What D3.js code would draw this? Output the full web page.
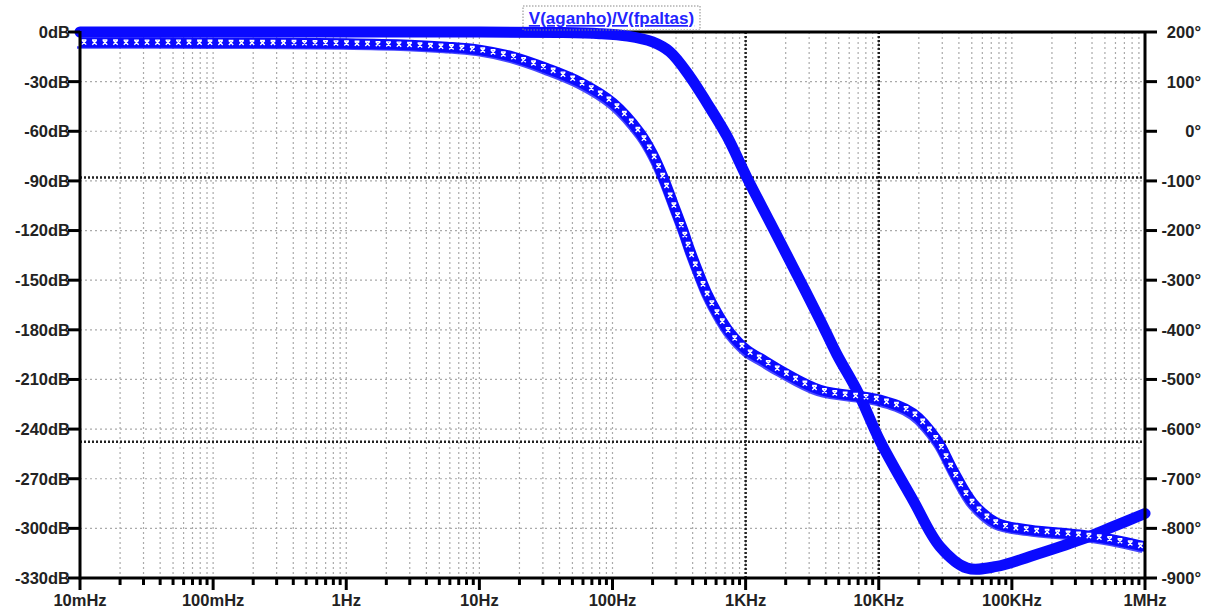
<!DOCTYPE html>
<html><head><meta charset="utf-8">
<script src="https://cdn.jsdelivr.net/npm/d3@7"></script>
<style>
html,body{margin:0;padding:0;background:#fff;}
svg{display:block;font-family:"Liberation Sans",Arial,sans-serif;}
</style></head>
<body><svg id="chart" width="1211" height="610"></svg>
<script>
// ---- data ----
const title = "V(aganho)/V(fpaltas)";
const freqTicks = [0.01, 0.1, 1, 10, 100, 1000, 10000, 100000, 1000000];
const freqTickLabels = ["10mHz","100mHz","1Hz","10Hz","100Hz","1KHz","10KHz","100KHz","1MHz"];
const dbTicks = [0,-30,-60,-90,-120,-150,-180,-210,-240,-270,-300,-330];
const dbTickLabels = dbTicks.map(d => d + "dB");
const degTicks = [200,100,0,-100,-200,-300,-400,-500,-600,-700,-800,-900];
const degTickLabels = degTicks.map(d => d + "°");

const magFreq = [0.01, 1, 10, 40, 80, 130, 200, 270, 382, 513, 724, 1023, 1524, 2270, 3622, 4856, 7000, 10200, 18100, 28800, 46000, 77000, 137000, 325000, 575000, 1000000];
const magDb   = [0, 0, 0, -0.3, -1, -2.5, -6, -12, -27, -43, -63, -88, -115, -142, -174, -195, -218, -247, -283, -311, -324, -323, -317, -307, -299, -291];

const phFreq = [0.01, 0.1, 1, 3, 5.7, 10, 17.9, 32, 57, 101, 161, 200, 240, 285, 340, 382, 450, 513, 600, 764, 1023, 1282, 1811, 3622, 10200, 18100, 27400, 36000, 51000, 77000, 137000, 325000, 575000, 1000000];
const phDeg  = [179, 178.5, 177, 174, 170, 164, 150, 127, 99, 57, -3, -45, -92, -145, -200, -240, -290, -327, -362, -406, -441, -457, -481, -521, -541, -568, -622, -682, -749, -789, -803, -813, -823, -837];

const cursorFreqs = [1000, 10000];
const cursorDb = [-88, -247.6];

// ---- layout ----
const L = 80, R = 1145, T = 32, B = 578;
const svg = d3.select("#chart");
const x = d3.scaleLog().domain([0.01, 1e6]).range([L, R]);
const yL = d3.scaleLinear().domain([0, -330]).range([T, B]);
const yR = d3.scaleLinear().domain([200, -900]).range([T, B]);
const blue = "#0a0aff";

// grid
const grid = svg.append("g");
const minor = [];
for (let e = -2; e < 6; e++) for (let m = 1; m < 10; m++) minor.push(m * Math.pow(10, e));
minor.push(1e6);
grid.selectAll("line.v").data(minor.filter(f => f > 0.01 && f < 1e6)).enter().append("line")
  .attr("x1", d => x(d)).attr("x2", d => x(d)).attr("y1", T).attr("y2", B)
  .attr("stroke", "#aaa").attr("stroke-width", 1.2).attr("stroke-dasharray", "2,3");
grid.selectAll("line.h").data(dbTicks.slice(1, -1)).enter().append("line")
  .attr("x1", L).attr("x2", R).attr("y1", d => yL(d)).attr("y2", d => yL(d))
  .attr("stroke", "#aaa").attr("stroke-width", 1.2).attr("stroke-dasharray", "2,3");

// cursors
const cur = svg.append("g");
cur.selectAll("line.cv").data(cursorFreqs).enter().append("line")
  .attr("x1", d => x(d)).attr("x2", d => x(d)).attr("y1", T).attr("y2", B)
  .attr("stroke", "#222").attr("stroke-width", 2.5).attr("stroke-dasharray", "2,2");
cur.selectAll("line.ch").data(cursorDb).enter().append("line")
  .attr("x1", L).attr("x2", R).attr("y1", d => yL(d)).attr("y2", d => yL(d))
  .attr("stroke", "#222").attr("stroke-width", 2.5).attr("stroke-dasharray", "2,2");

// top frame line
svg.append("line").attr("x1", L).attr("x2", R).attr("y1", T).attr("y2", T).attr("stroke", "#000").attr("stroke-width", 3);

// curves
const magData = magFreq.map((f, i) => [x(f), yL(magDb[i])]);
const phData = phFreq.map((f, i) => [x(f), yR(phDeg[i])]);
const line = d3.line().curve(d3.curveCatmullRom.alpha(0.5));

// phase (dashed-style trace with markers)
svg.append("path").attr("d", line(phData)).attr("fill", "none")
  .attr("stroke", blue).attr("stroke-width", 2.5).attr("opacity", 0.75)
  .attr("transform", "translate(-3,5)");
const phPath = svg.append("path").attr("d", line(phData)).attr("fill", "none")
  .attr("stroke", blue).attr("stroke-width", 10.5).attr("stroke-linejoin", "round");
// magnitude
svg.append("path").attr("d", line(magData)).attr("fill", "none")
  .attr("stroke", blue).attr("stroke-width", 11).attr("stroke-linejoin", "round").attr("stroke-linecap", "round");

// phase markers
const node = phPath.node();
const total = node.getTotalLength();
const marks = [];
for (let s = 4; s < total; s += 10.5) marks.push(node.getPointAtLength(s));
svg.append("g").selectAll("path").data(marks).enter().append("path")
  .attr("d", d => `M${d.x-2.2},${d.y-2.2}L${d.x+2.2},${d.y+2.2}M${d.x+2.2},${d.y-2.2}L${d.x-2.2},${d.y+2.2}M${d.x-2.4},${d.y-2.4}L${d.x+2.4},${d.y-2.4}`)
  .attr("stroke", "#fff").attr("stroke-width", 1.4).attr("fill", "none");

// axes
const ax = svg.append("g");
ax.append("line").attr("x1", L).attr("x2", L).attr("y1", T - 1).attr("y2", B + 1.5).attr("stroke", "#000").attr("stroke-width", 3);
ax.append("line").attr("x1", R).attr("x2", R).attr("y1", T - 1).attr("y2", B + 1.5).attr("stroke", "#000").attr("stroke-width", 3);
ax.append("line").attr("x1", L).attr("x2", R).attr("y1", B).attr("y2", B).attr("stroke", "#000").attr("stroke-width", 3);

// left ticks + labels
ax.selectAll("line.lt").data(dbTicks).enter().append("line")
  .attr("x1", L - 12).attr("x2", L).attr("y1", d => yL(d)).attr("y2", d => yL(d))
  .attr("stroke", "#000").attr("stroke-width", 3);
ax.selectAll("text.lt").data(dbTicks).enter().append("text")
  .attr("x", L - 10).attr("y", d => yL(d)).attr("dy", "0.36em").attr("text-anchor", "end")
  .attr("font-size", 16.5).attr("font-weight", "bold").attr("fill", "#222")
  .text((d, i) => dbTickLabels[i]);

// right ticks + labels
ax.selectAll("line.rt").data(degTicks).enter().append("line")
  .attr("x1", R).attr("x2", R + 12).attr("y1", d => yR(d)).attr("y2", d => yR(d))
  .attr("stroke", "#000").attr("stroke-width", 3);
ax.selectAll("text.rt").data(degTicks).enter().append("text")
  .attr("x", 1201).attr("y", d => yR(d)).attr("dy", "0.36em").attr("text-anchor", "end")
  .attr("font-size", 16.5).attr("font-weight", "bold").attr("fill", "#222")
  .text((d, i) => degTickLabels[i]);

// bottom ticks
ax.selectAll("line.bm").data(minor.filter(f => !freqTicks.includes(f))).enter().append("line")
  .attr("x1", d => x(d)).attr("x2", d => x(d)).attr("y1", B).attr("y2", B + 7)
  .attr("stroke", "#000").attr("stroke-width", 3);
ax.selectAll("line.bM").data(freqTicks).enter().append("line")
  .attr("x1", d => x(d)).attr("x2", d => x(d)).attr("y1", B).attr("y2", B + 12)
  .attr("stroke", "#000").attr("stroke-width", 3);
ax.selectAll("text.bt").data(freqTicks).enter().append("text")
  .attr("x", d => x(d)).attr("y", 606).attr("text-anchor", "middle")
  .attr("font-size", 16.5).attr("font-weight", "bold").attr("fill", "#222")
  .text((d, i) => freqTickLabels[i]);

// title
const tg = svg.append("g");
tg.append("rect").attr("x", 523).attr("y", 6).attr("width", 177).attr("height", 24)
  .attr("fill", "none").attr("stroke", "#888").attr("stroke-width", 1).attr("stroke-dasharray", "1.5,1.5");
tg.append("text").attr("x", 611.5).attr("y", 24).attr("text-anchor", "middle")
  .attr("font-size", 17).attr("font-weight", "bold").attr("fill", "#2323ff")
  .attr("text-decoration", "underline").text(title);
</script></body></html>
